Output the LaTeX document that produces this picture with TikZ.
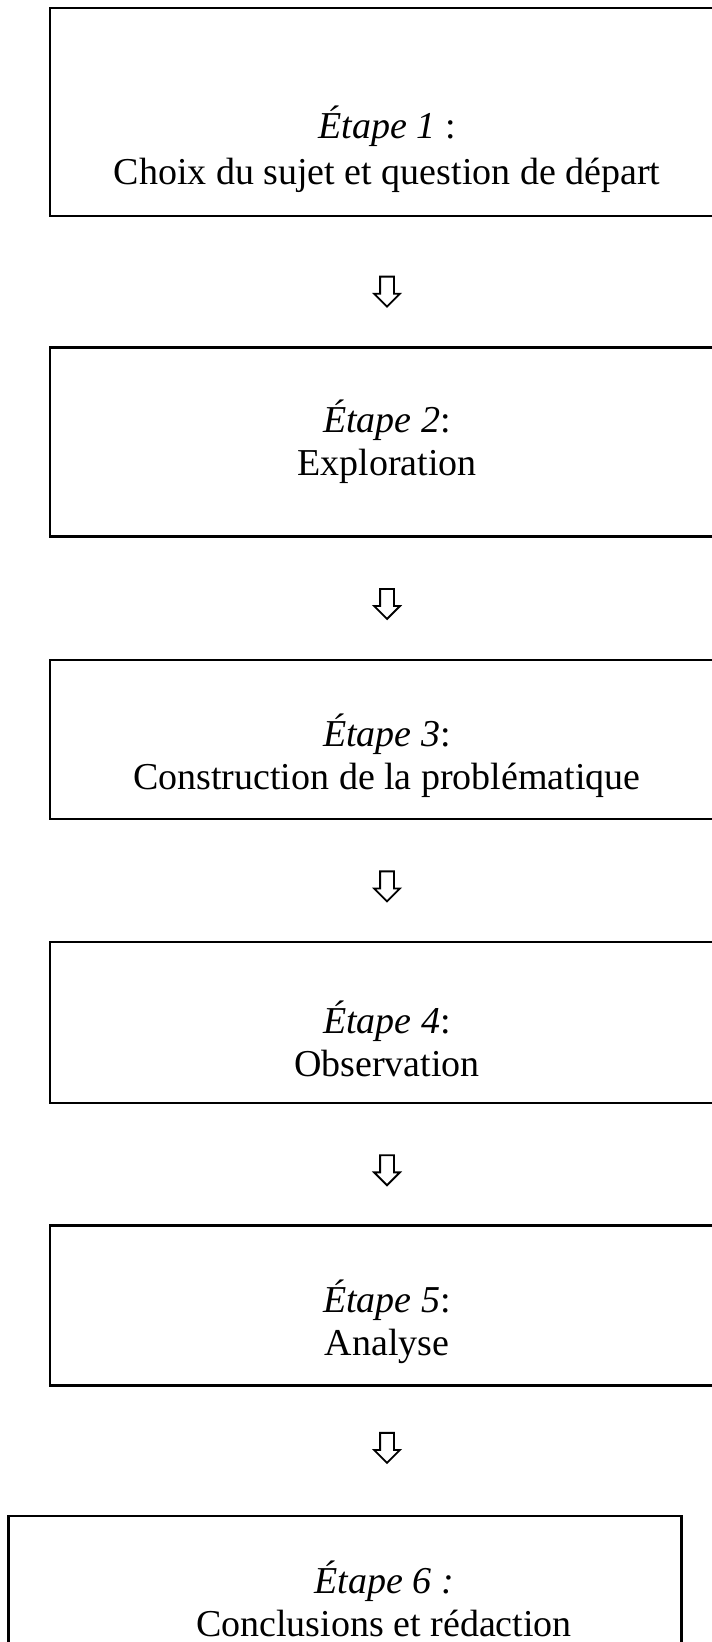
\documentclass[tikz,border=0pt]{standalone}
\usepackage{fontspec}
\setmainfont{Liberation Serif}
\usetikzlibrary{positioning}
\usetikzlibrary{shapes.arrows}

\begin{document}
\begin{tikzpicture}[
            x = 1pt, y = -1pt, % pixel grid, y going down
            node distance = 121pt, % gap between boxes
            line width = 2pt
        ]

        \tikzstyle{etape}=[
            draw,
            rectangle,
            line width = 2.4pt,
            minimum width = 674pt,
            inner sep = 0pt
        ]
        \tikzstyle{texte}=[
            align = center,
            inner sep = 0pt,
            font = \fontsize{38}{43}\selectfont
        ]
        \tikzstyle{fleche}=[
            single arrow,
            draw,
            line width = 1.8pt,
            shape border rotate = 270,
            minimum height = 30pt,
            inner sep = 6pt,
            single arrow head extend = 6pt
        ]

        \useasboundingbox (0,0) rectangle (712,1642);

	% boxes
        \node[etape, minimum height = 208pt] (E1) at (387,112) {};
        \node[etape, minimum height = 189pt] (E2) [below = 129pt of E1] {};
        \node[etape, minimum height = 159pt] (E3) [below = of E2] {};
        \node[etape, minimum height = 161pt] (E4) [below = of E3] {};
        \node[etape, minimum height = 160pt] (E5) [below = 120pt of E4] {};
        \node[etape, minimum height = 170pt, minimum width = 673pt] (E6) [below = 128pt of E5, xshift = -42pt] {};

        % texts
        \node[texte] (T1) at ([yshift=-37pt]E1.center) {\textit{Étape 1} :\\[3pt] Choix du sujet et question de départ};
        \node[texte] (T2) at (E2.center) {\textit{Étape 2}:\\ Exploration};
        \node[texte] (T3) at ([yshift=-16pt]E3.center) {\textit{Étape 3}:\\ Construction de la problématique};
        \node[texte] (T4) at ([yshift=-16pt]E4.center) {\textit{Étape 4}:\\ Observation};
        \node[texte] (T5) at ([yshift=-16pt]E5.center) {\textit{Étape 5}:\\ Analyse};
        \node[texte] (T6) at ([xshift=39pt, yshift=2pt]E6.center) {\textit{Étape 6 :}\\ Conclusions et rédaction};

        % arrows
        \path (E1) -- node[fleche, pos = 0.55] (F1) {} (E2);
        \path (E2) -- node[fleche, pos = 0.52] (F2) {} (E3);
        \path (E3) -- node[fleche, pos = 0.52] (F3) {} (E4);
        \path (E4) -- node[fleche, pos = 0.52] (F4) {} (E5);
        \path (E5.south) -- node[fleche, pos = 0.45] (F5) {} (E5.south |- E6.north);

\end{tikzpicture}
\end{document}
